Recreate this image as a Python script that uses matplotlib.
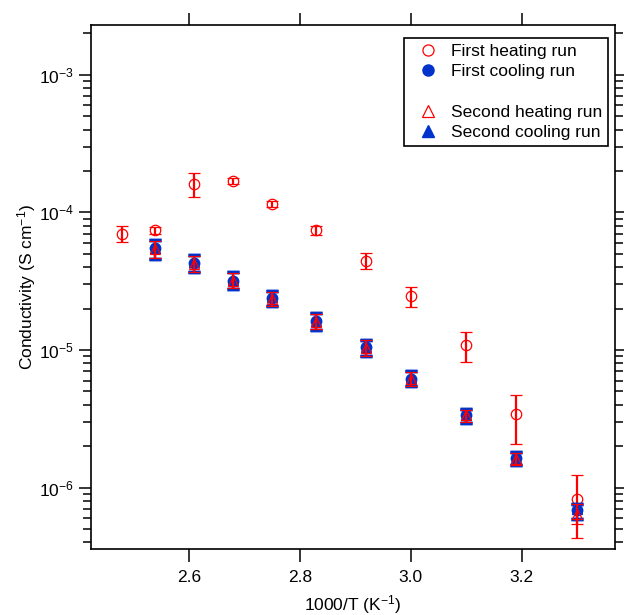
import matplotlib
matplotlib.use("Agg")
import matplotlib.pyplot as plt
from matplotlib.lines import Line2D
from matplotlib.ticker import LogLocator, FixedLocator, NullFormatter

plt.rcParams["font.family"] = ["Liberation Sans", "DejaVu Sans"]
plt.rcParams["mathtext.fontset"] = "custom"
plt.rcParams["mathtext.rm"] = "Liberation Sans"
plt.rcParams["mathtext.default"] = "regular"
plt.rcParams["axes.unicode_minus"] = False

RED = "#FF0000"
BLUE = "#0033CC"
FS = 12.5

# first heating run: 1000/T, conductivity, error bar ends (S/cm)
heat1_x = [2.48, 2.54, 2.61, 2.68, 2.75, 2.83, 2.92, 3.00, 3.10, 3.19, 3.30]
heat1_y = [6.95e-5, 7.4e-5, 1.6e-4, 1.7e-4, 1.15e-4, 7.4e-5, 4.45e-5, 2.45e-5, 1.09e-5, 3.4e-6, 8.2e-7]
heat1_hi = [7.9e-5, 7.8e-5, 1.92e-4, 1.78e-4, 1.21e-4, 7.9e-5, 5.05e-5, 2.85e-5, 1.36e-5, 4.7e-6, 1.24e-6]
heat1_lo = [6.1e-5, 7.0e-5, 1.29e-4, 1.62e-4, 1.09e-4, 6.9e-5, 3.9e-5, 2.07e-5, 8.2e-6, 2.07e-6, 4.3e-7]

# first cooling run
cool1_x = [2.54, 2.61, 2.68, 2.75, 2.83, 2.92, 3.00, 3.10, 3.19, 3.30]
cool1_y = [5.47e-5, 4.3e-5, 3.2e-5, 2.4e-5, 1.62e-5, 1.05e-5, 6.2e-6, 3.37e-6, 1.63e-6, 6.9e-7]
cool1_hi = [6.3e-5, 4.9e-5, 3.67e-5, 2.7e-5, 1.85e-5, 1.19e-5, 7.0e-6, 3.7e-6, 1.8e-6, 7.6e-7]
cool1_lo = [4.6e-5, 3.67e-5, 2.77e-5, 2.1e-5, 1.4e-5, 9.0e-6, 5.47e-6, 2.95e-6, 1.45e-6, 5.9e-7]

# second heating run
heat2_x = [2.54, 2.61, 2.68, 2.75, 2.83, 2.92, 3.00, 3.10, 3.19, 3.30]
heat2_y = [5.4e-5, 4.25e-5, 3.15e-5, 2.35e-5, 1.6e-5, 1.04e-5, 6.15e-6, 3.35e-6, 1.62e-6, 6.45e-7]
heat2_hi = [6.2e-5, 4.85e-5, 3.6e-5, 2.65e-5, 1.82e-5, 1.18e-5, 6.9e-6, 3.68e-6, 1.78e-6, 7.6e-7]
heat2_lo = [4.7e-5, 3.7e-5, 2.8e-5, 2.1e-5, 1.42e-5, 9.1e-6, 5.5e-6, 3.0e-6, 1.47e-6, 5.4e-7]

# second cooling run
cool2_x = [2.54, 2.61, 2.68, 2.75, 2.83, 2.92, 3.00, 3.10, 3.19, 3.30]
cool2_y = [5.5e-5, 4.35e-5, 3.22e-5, 2.42e-5, 1.63e-5, 1.06e-5, 6.25e-6, 3.38e-6, 1.64e-6, 7.0e-7]
cool2_hi = [6.3e-5, 4.9e-5, 3.67e-5, 2.7e-5, 1.85e-5, 1.19e-5, 7.0e-6, 3.7e-6, 1.8e-6, 7.6e-7]
cool2_lo = [4.6e-5, 3.67e-5, 2.77e-5, 2.1e-5, 1.4e-5, 9.0e-6, 5.47e-6, 2.95e-6, 1.45e-6, 5.9e-7]

x_ticks = [2.6, 2.8, 3.0, 3.2]


def yerr(y, lo, hi):
    return [[v - l for v, l in zip(y, lo)], [h - v for v, h in zip(y, hi)]]


fig = plt.figure(figsize=(6.24, 6.15), dpi=100)
ax = fig.add_axes([0.1458, 0.1073, 0.84, 0.852])

ax.errorbar(heat1_x, heat1_y, yerr=yerr(heat1_y, heat1_lo, heat1_hi), fmt="o", ms=7.5,
            mfc="none", mec=RED, mew=0.9, ecolor=RED, elinewidth=1.6, capsize=4, capthick=2, zorder=2)
ax.errorbar(cool1_x, cool1_y, yerr=yerr(cool1_y, cool1_lo, cool1_hi), fmt="o", ms=7.5,
            mfc=BLUE, mec=BLUE, ecolor=BLUE, elinewidth=1.6, capsize=4.5, capthick=2.5, zorder=3)
ax.errorbar(cool2_x, cool2_y, yerr=yerr(cool2_y, cool2_lo, cool2_hi), fmt="^", ms=7.5,
            mfc=BLUE, mec=BLUE, ecolor=BLUE, elinewidth=1.6, capsize=4.5, capthick=2.5, zorder=4)
ax.errorbar(heat2_x, heat2_y, yerr=yerr(heat2_y, heat2_lo, heat2_hi), fmt="^", ms=7.5,
            mfc="none", mec=RED, mew=0.9, ecolor=RED, elinewidth=1.6, capsize=4, capthick=2, zorder=5)

ax.set_yscale("log")
ax.set_xlim(2.424, 3.368)
ax.set_ylim(3.58e-7, 2.3e-3)
ax.xaxis.set_major_locator(FixedLocator(x_ticks))
ax.set_xticklabels([f"{t:.1f}" for t in x_ticks])
ax.yaxis.set_major_locator(LogLocator(base=10, numticks=10))
ax.yaxis.set_minor_locator(LogLocator(base=10, subs=range(2, 10), numticks=20))
ax.yaxis.set_minor_formatter(NullFormatter())

ax.tick_params(which="both", direction="out", width=1.1, top=True, right=True,
               labelsize=FS, colors="black", pad=6)
ax.tick_params(which="major", length=9)
ax.tick_params(which="minor", length=5.5)
ax.tick_params(axis="y", which="major", pad=3)
for sp in ax.spines.values():
    sp.set_linewidth(1.2)

ax.set_xlabel("1000/T (K$^{-1}$)", fontsize=FS, labelpad=6)
ax.set_ylabel("Conductivity (S cm$^{-1}$)", fontsize=FS, labelpad=1)

handles = [
    Line2D([], [], ls="none", marker="o", ms=8, mfc="none", mec=RED, mew=0.9),
    Line2D([], [], ls="none", marker="o", ms=8, mfc=BLUE, mec=BLUE),
    Line2D([], [], ls="none", marker=None),
    Line2D([], [], ls="none", marker="^", ms=8, mfc="none", mec=RED, mew=0.9),
    Line2D([], [], ls="none", marker="^", ms=8, mfc=BLUE, mec=BLUE),
]
labels = ["First heating run", "First cooling run", " ", "Second heating run", "Second cooling run"]
leg = ax.legend(handles, labels, loc="upper right", bbox_to_anchor=(0.987, 0.976),
                borderaxespad=0, fontsize=FS, frameon=True, fancybox=False,
                edgecolor="black", framealpha=1, handlelength=2.0, handletextpad=0.35,
                labelspacing=0.3, borderpad=0.35)
leg.get_frame().set_linewidth(1.2)

fig.savefig("out.png", dpi=100)
